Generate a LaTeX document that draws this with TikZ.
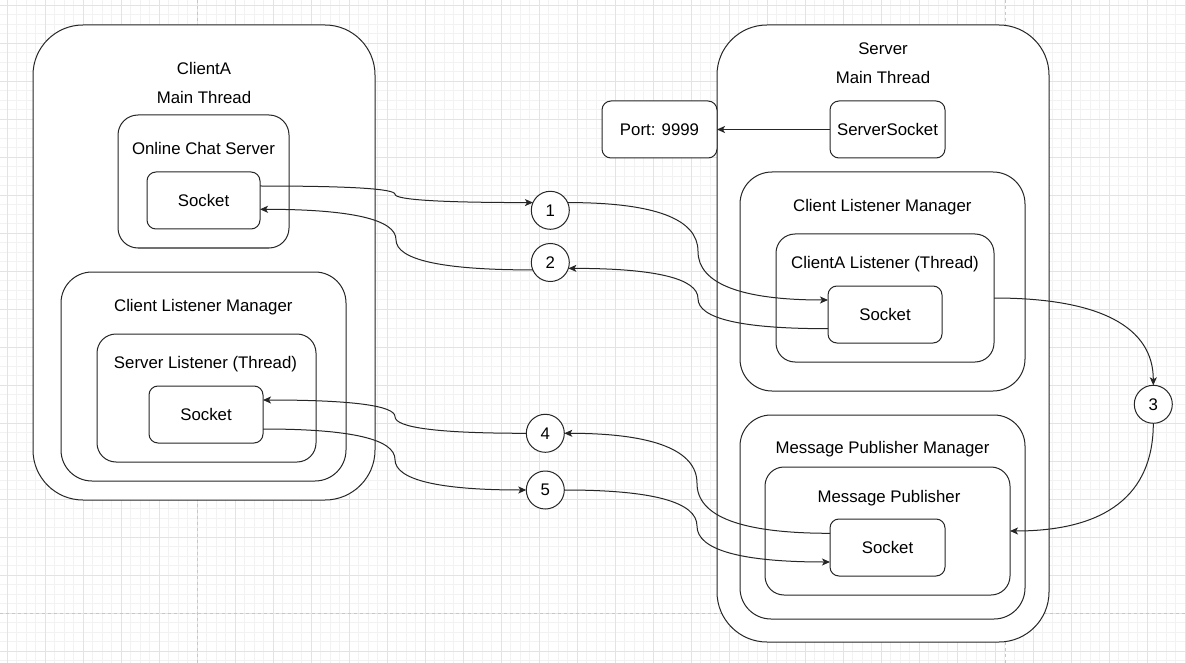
\documentclass[tikz,border=0pt]{standalone}
\usepackage{fontspec}
\setmainfont{Liberation Sans}
\usetikzlibrary{arrows.meta,calc}
\tikzset{
  minorgrid/.style={draw=black!5, line width=0.8pt},
  majorgrid/.style={draw=black!11, line width=0.9pt},
  pagebreak/.style={draw=black!22, line width=0.9pt, dash pattern=on 3pt off 3pt},
  txt/.style={font=\fontsize{16.8}{20}\selectfont, inner sep=0pt, outer sep=0pt},
  box/.style={txt, draw=black!85, line width=1pt, fill=white, rectangle, rounded corners=#1},
  box/.default=9pt,
  numc/.style={txt, circle, draw=black!85, line width=1pt, fill=white, minimum size=38pt},
  arr/.style={draw=black!85, line width=1pt, -{Stealth[length=8pt,width=7pt,inset=2pt]}},
  % orthogonal route h-v-h with the vertical leg at x=#1, rounded as draw.io "curved"
  curv/.style={to path={
    let \p1=(\tikztostart), \p2=(\tikztotarget),
        \n1={#1*1pt},
        \n3={(\y1+\y2)/2}
    in .. controls ({\x1+2/3*((\n1)-\x1)},\y1) and (\n1,{(\n3)+2/3*(\y1-(\n3))}) .. (\n1,\n3)
       .. controls (\n1,{(\n3)+2/3*(\y2-(\n3))}) and ({\x2+2/3*((\n1)-\x2)},\y2) .. (\tikztotarget)}},
  hvcurv/.style={to path={
    let \p1=(\tikztostart), \p2=(\tikztotarget)
    in .. controls ({\x1+2/3*(\x2-\x1)},\y1) and (\x2,{\y2+2/3*(\y1-\y2)}) .. (\tikztotarget)}},
  vhcurv/.style={to path={
    let \p1=(\tikztostart), \p2=(\tikztotarget)
    in .. controls (\x1,{\y1+2/3*(\y2-\y1)}) and ({\x2+2/3*(\x1-\x2)},\y2) .. (\tikztotarget)}},
}
\begin{document}
\begin{tikzpicture}[x=1pt,y=-1pt]
\useasboundingbox (0,0) rectangle (1186,663);
\fill[white] (0,0) rectangle (1186,663);
% grid
\foreach \i in {0,...,124} \draw[minorgrid] ({7.3+9.5*\i},0) -- ({7.3+9.5*\i},663);
\foreach \i in {0,...,69} \draw[minorgrid] (0,{5.3+9.5*\i}) -- (1186,{5.3+9.5*\i});
\foreach \i in {0,...,31} \draw[majorgrid] ({7.3+38*\i},0) -- ({7.3+38*\i},663);
\foreach \i in {0,...,17} \draw[majorgrid] (0,{5.3+38*\i}) -- (1186,{5.3+38*\i});
% page breaks
\draw[pagebreak] (197.3,0) -- (197.3,663);
\draw[pagebreak] (1005,0) -- (1005,663);
\draw[pagebreak] (0,613.3) -- (1186,613.3);

% ClientA side
\node[box=50pt, minimum width=342pt, minimum height=475pt] (clientA) at (204,262.5) {};
\node[txt, anchor=base] (tA1) at (204,74.3) {ClientA};
\node[txt, anchor=base] (tA2) at (204,103.3) {Main Thread};
\node[box=20pt, minimum width=171pt, minimum height=133pt] (ocs) at (203.5,181.5) {};
\node[txt, anchor=base] (tOCS) at (203.5,154.3) {Online Chat Server};
\node[box, minimum width=113pt, minimum height=57pt] (sockA) at (203.5,200.5) {Socket};
\node[box=31pt, minimum width=285pt, minimum height=209pt] (clmA) at (203.5,376.5) {};
\node[txt, anchor=base] (tCLMA) at (203.3,311.3) {Client Listener Manager};
\node[box=19pt, minimum width=219pt, minimum height=128pt] (sl) at (206.5,398) {};
\node[txt, anchor=base] (tSL) at (205.5,368.5) {Server Listener (Thread)};
\node[box, minimum width=114pt, minimum height=57pt] (sockB) at (206,414.5) {Socket};

% Server side
\node[box=50pt, minimum width=332pt, minimum height=617pt] (server) at (883,333.5) {};
\node[txt, anchor=base] (tS1) at (883,54.5) {Server};
\node[txt, anchor=base] (tS2) at (883,83.5) {Main Thread};
\node[box, minimum width=115pt, minimum height=57pt] (port) at (659.5,129.5) {Port: 9999};
\node[box, minimum width=115pt, minimum height=57pt] (ss) at (887.5,129.5) {ServerSocket};
\node[box=32pt, minimum width=285pt, minimum height=219pt] (clmS) at (882.5,281.5) {};
\node[txt, anchor=base] (tCLMS) at (882.3,212) {Client Listener Manager};
\node[box=19pt, minimum width=218pt, minimum height=128pt] (cal) at (885,298) {};
\node[txt, anchor=base] (tCAL) at (885,269) {ClientA Listener (Thread)};
\node[box, minimum width=114pt, minimum height=57pt] (sockS) at (885,314.5) {Socket};
\node[box=31pt, minimum width=285pt, minimum height=204pt] (mpm) at (882.5,517) {};
\node[txt, anchor=base] (tMPM) at (882.5,453.5) {Message Publisher Manager};
\node[box=19pt, minimum width=245pt, minimum height=128pt] (mp) at (887.5,531) {};
\node[txt, anchor=base] (tMP) at (889,502) {Message Publisher};
\node[box, minimum width=115pt, minimum height=57pt] (sockM) at (887.5,547.5) {Socket};

% numbered circles
\node[numc] (c1) at (550.3,210.3) {1};
\node[numc] (c2) at (550.3,262.5) {2};
\node[numc] (c3) at (1153.3,404.3) {3};
\node[numc] (c4) at (545.3,433.3) {4};
\node[numc] (c5) at (545.3,490) {5};

% connectors
\draw[arr] (ss.west) -- (port.east);
\draw[arr] ([yshift=14.5pt]sockA.east) to[curv=395] (c1.156);
\draw[arr] (c2.203) to[curv=396] ([yshift=-8.8pt]sockA.east);
\draw[arr] (c1.24) to[curv=698] ([yshift=14.5pt]sockS.west);
\draw[arr] ([yshift=-14.2pt]sockS.west) to[curv=698] (c2.342);
\draw[arr] (cal.east) to[hvcurv] (c3.north);
\draw[arr] (c3.south) to[vhcurv] (mp.east);
\draw[arr] ([yshift=14.2pt]sockM.west) to[curv=697] (c4.east);
\draw[arr] (c5.east) to[curv=697] ([yshift=-14.5pt]sockM.west);
\draw[arr] (c4.west) to[curv=395] ([yshift=14.5pt]sockB.east);
\draw[arr] ([yshift=-14.5pt]sockB.east) to[curv=395] (c5.west);
\end{tikzpicture}
\end{document}
